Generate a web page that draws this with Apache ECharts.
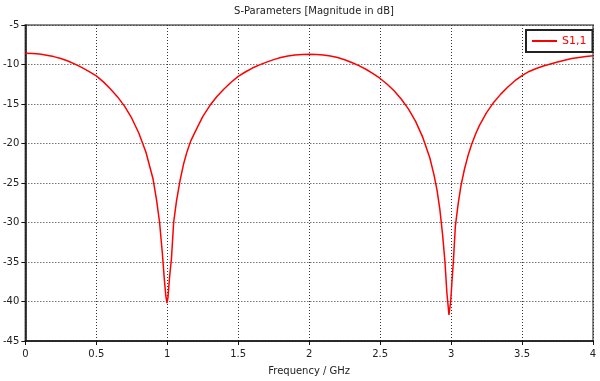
<!DOCTYPE html>
<html>
<head>
<meta charset="utf-8">
<script src="https://cdn.jsdelivr.net/npm/echarts@6/dist/echarts.min.js"></script>
<style>
html,body{margin:0;padding:0;background:#fff;}
#c{width:600px;height:381px;}
</style>
</head>
<body>
<div id="c"></div>
<script>
// Frequency (GHz) sample points
var freqGHz = [0, 0.05, 0.1, 0.15, 0.2, 0.25, 0.3, 0.35, 0.4, 0.45, 0.5, 0.55, 0.6, 0.65, 0.7, 0.75, 0.8, 0.85, 0.9, 0.925, 0.946, 0.965, 0.98, 0.99, 0.998, 1.005, 1.015, 1.03, 1.045, 1.065, 1.09, 1.115, 1.14, 1.165, 1.2, 1.25, 1.3, 1.35, 1.4, 1.45, 1.5, 1.55, 1.6, 1.65, 1.7, 1.75, 1.8, 1.85, 1.9, 1.95, 2.0,
  2.05, 2.1, 2.15, 2.2, 2.25, 2.3, 2.35, 2.4, 2.45, 2.5, 2.55, 2.6, 2.65, 2.7, 2.75, 2.8, 2.85, 2.88, 2.9, 2.92, 2.94, 2.957, 2.97, 2.985, 2.997, 3.008, 3.016, 3.03, 3.05, 3.07, 3.095, 3.12, 3.145, 3.175, 3.2, 3.25, 3.3, 3.35, 3.4, 3.45, 3.5, 3.55, 3.6, 3.65, 3.7, 3.75, 3.8, 3.85, 3.9, 3.95, 4.0];
// S1,1 magnitude in dB
var s11dB = [-8.57, -8.6, -8.67, -8.82, -9.0, -9.25, -9.55, -9.95, -10.4, -10.9, -11.44, -12.2, -13.1, -14.1, -15.3, -16.8, -18.7, -21.1, -24.5, -27.2, -30.0, -33.8, -37.3, -39.3, -40.2, -39.5, -37.2, -34.5, -30.0, -27.3, -24.7, -22.6, -21.0, -19.7, -18.4, -16.6, -15.2, -14.05, -13.1, -12.25, -11.5, -10.95, -10.45, -10.05, -9.7, -9.38, -9.12, -8.92, -8.79, -8.72, -8.7,
  -8.73, -8.8, -8.93, -9.12, -9.4, -9.75, -10.15, -10.6, -11.15, -11.77, -12.5, -13.35, -14.4, -15.65, -17.2, -19.2, -21.8, -24.0, -25.8, -28.2, -31.5, -35.0, -38.8, -41.7, -40.0, -37.0, -35.0, -30.5, -27.6, -25.3, -23.2, -21.5, -20.1, -18.7, -17.7, -16.1, -14.8, -13.75, -12.85, -12.05, -11.4, -10.88, -10.5, -10.2, -9.93, -9.68, -9.45, -9.25, -9.1, -8.98, -8.9];
var seriesName = 'S1,1';
var chartTitle = 'S-Parameters [Magnitude in dB]';
var xAxisName = 'Frequency / GHz';

var data = freqGHz.map(function (f, i) { return [f, s11dB[i]]; });
var font = 'Tahoma, "DejaVu Sans", Verdana, sans-serif';

var chart = echarts.init(document.getElementById('c'), null, {renderer: 'canvas'});
chart.setOption({
  backgroundColor: '#ffffff',
  animation: false,
  title: {
    text: chartTitle,
    left: 309, top: 1, textAlign: 'center',
    textStyle: {fontFamily: font, fontSize: 10, fontWeight: 'normal', color: '#222'}
  },
  legend: {
    left: 526, top: 30,
    padding: [4, 6, 4, 6],
    borderColor: '#222', borderWidth: 2,
    icon: 'rect',
    itemWidth: 25, itemHeight: 2,
    textStyle: {fontFamily: font, fontSize: 11, color: '#ff0000', lineHeight: 14},
    data: [seriesName]
  },
  grid: {
    left: 24, right: 7, top: 25, bottom: 39,
    show: true, borderColor: '#8a8a8a', borderWidth: 2
  },
  xAxis: {
    type: 'value', min: 0, max: 4, interval: 0.5,
    name: xAxisName, nameLocation: 'middle', nameGap: 25,
    nameTextStyle: {fontFamily: font, fontSize: 10, color: '#222'},
    axisLine: {show: true, onZero: false, lineStyle: {color: '#111', width: 1.5}},
    axisTick: {show: true, length: 4, lineStyle: {color: '#111'}},
    axisLabel: {fontFamily: font, fontSize: 10, color: '#222', margin: 8},
    splitLine: {show: true, lineStyle: {color: '#333', width: 1, type: [1, 2]}}
  },
  yAxis: {
    type: 'value', min: -45, max: -5, interval: 5,
    axisLine: {show: true, onZero: false, lineStyle: {color: '#111', width: 1.5}},
    axisTick: {show: true, length: 4, lineStyle: {color: '#111'}},
    axisLabel: {fontFamily: font, fontSize: 10, color: '#222', margin: 6},
    splitLine: {show: true, lineStyle: {color: '#333', width: 1, type: [1, 2]}}
  },
  series: [{
    name: seriesName, type: 'line', data: data,
    symbol: 'none', smooth: false,
    lineStyle: {color: '#ff0000', width: 1.5},
    itemStyle: {color: '#ff0000'}
  }]
});
</script>
</body>
</html>
